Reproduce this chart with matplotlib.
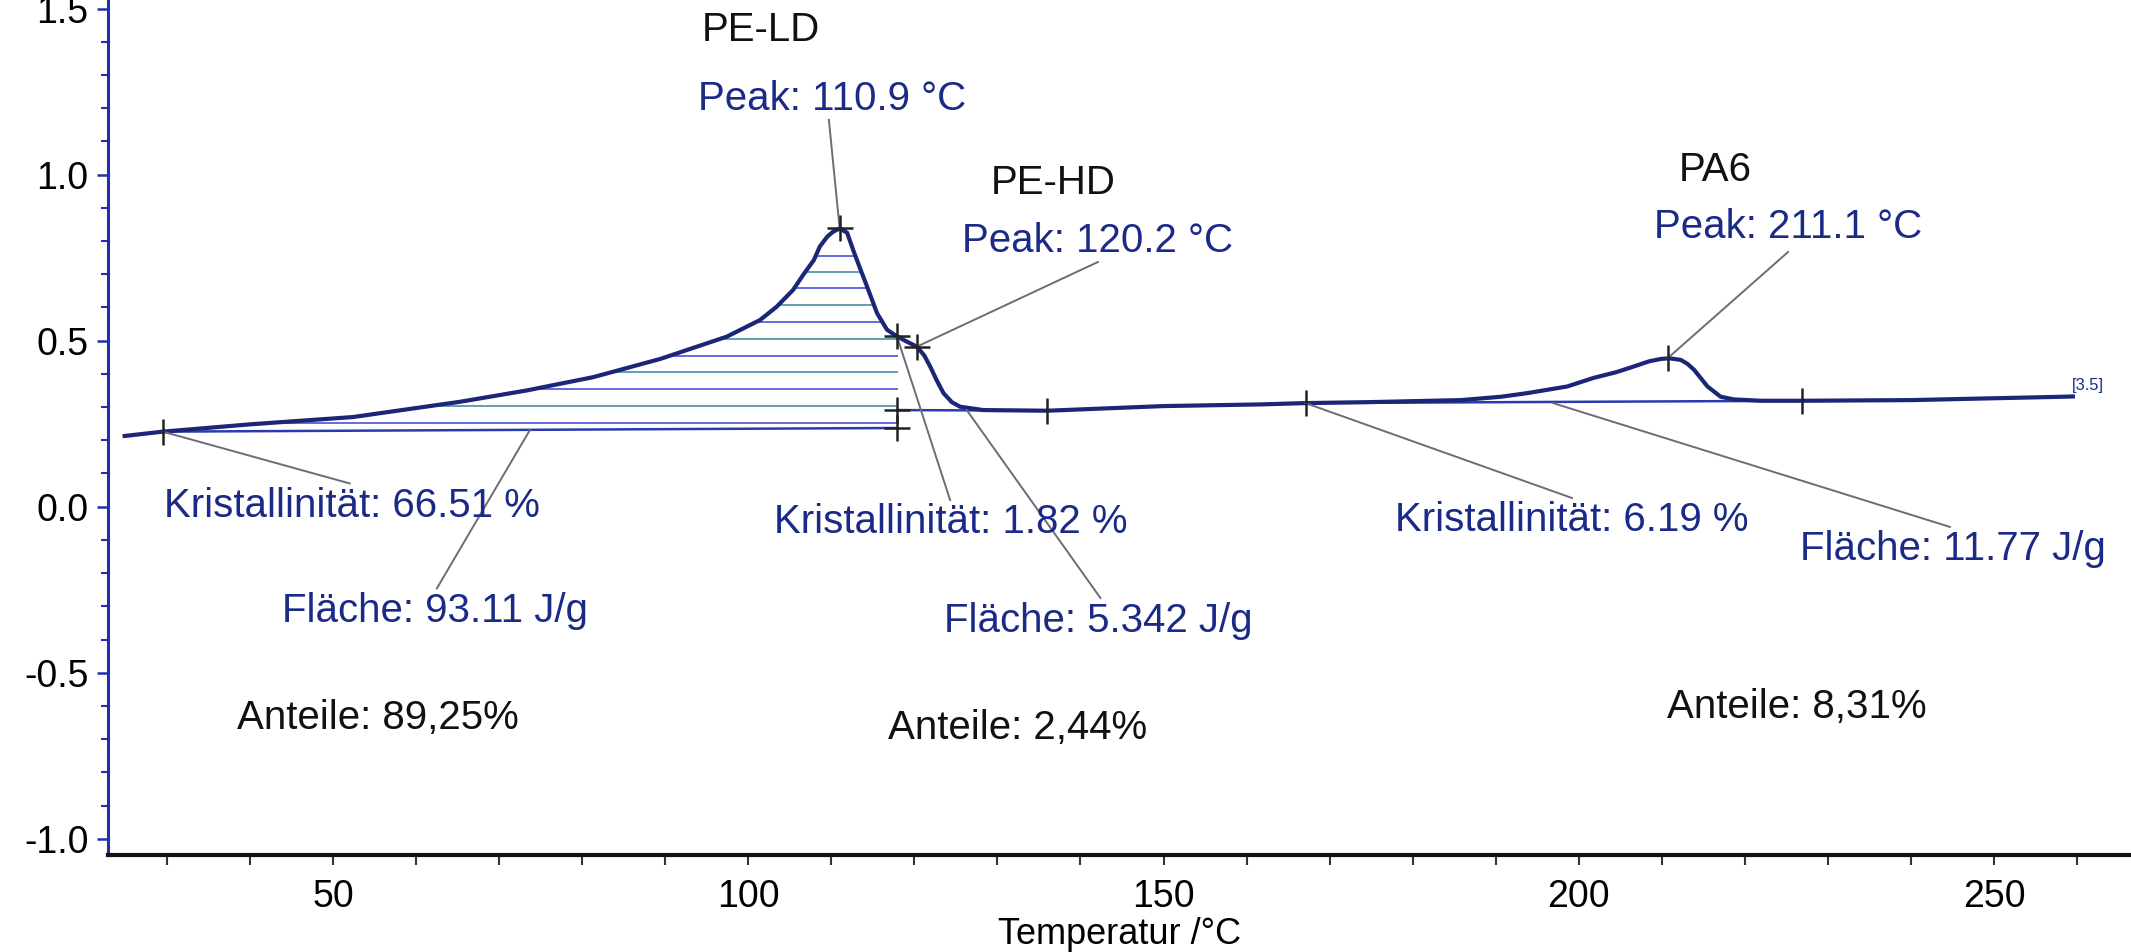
import numpy as np
import matplotlib
matplotlib.use("Agg")
from matplotlib import pyplot as plt
from matplotlib.ticker import MultipleLocator, FormatStrFormatter

plt.rcParams['font.family'] = ['Liberation Sans', 'DejaVu Sans']
plt.rcParams['axes.unicode_minus'] = False

# DSC curve (Temperatur /°C, signal)
temp = [24.9, 29.5, 40.0, 52.4, 65.3, 73.3, 81.3, 89.4, 97.4, 101.4, 103.4,
        105.4, 106.6, 107.9, 108.6, 109.5, 110.2, 111.0, 111.9, 112.7, 113.5,
        114.3, 115.5, 116.7, 117.9, 119.1, 120.3, 121.2, 121.9, 122.7, 123.5,
        124.5, 125.5, 128.3, 136.0, 150.0, 161.7, 167.1, 175.0, 185.8, 190.6,
        193.8, 198.6, 201.8, 204.5, 206.6, 208.5, 209.9, 210.9, 212.3, 213.1,
        213.9, 215.5, 217.1, 218.7, 222.0, 226.9, 240.0, 258.1, 259.5]
signal = [0.213, 0.226, 0.248, 0.270, 0.316, 0.350, 0.390, 0.445, 0.512, 0.562,
          0.602, 0.653, 0.698, 0.743, 0.783, 0.813, 0.828, 0.838, 0.825, 0.768,
          0.715, 0.663, 0.583, 0.533, 0.513, 0.497, 0.482, 0.455, 0.422, 0.380,
          0.342, 0.315, 0.301, 0.291, 0.289, 0.303, 0.308, 0.312, 0.315, 0.321,
          0.331, 0.342, 0.362, 0.388, 0.405, 0.422, 0.438, 0.445, 0.447, 0.442,
          0.430, 0.412, 0.362, 0.331, 0.323, 0.319, 0.319, 0.321, 0.331, 0.332]

# integration baselines (x0, y0, x1, y1)
base_ld = [29.5, 0.226, 117.9, 0.237]
base_hd = [117.9, 0.291, 136.0, 0.289]
base_pa = [167.1, 0.312, 226.9, 0.319]

# hatch levels of the PE-LD area
hatch_levels = [0.253, 0.304, 0.355, 0.407, 0.455, 0.506, 0.557, 0.608,
                0.660, 0.708, 0.755]

# evaluation points
ticks_bar = [(29.5, 0.226), (136.0, 0.289), (167.1, 0.312), (210.7, 0.447),
             (226.9, 0.319)]
ticks_plus = [(111.0, 0.838), (117.9, 0.513), (120.3, 0.482), (117.9, 0.291),
              (117.9, 0.237)]

# labels
blue_text = ["Peak: 110.9 °C", "Peak: 120.2 °C", "Peak: 211.1 °C",
             "Kristallinität: 66.51 %", "Fläche: 93.11 J/g",
             "Kristallinität: 1.82 %", "Fläche: 5.342 J/g",
             "Kristallinität: 6.19 %", "Fläche: 11.77 J/g"]
black_text = ["PE-LD", "PE-HD", "PA6",
              "Anteile: 89,25%", "Anteile: 2,44%", "Anteile: 8,31%"]

# layout: text centres and connector lines
blue_pos = [(110.1, 1.228), (142.1, 0.800), (225.2, 0.843),
            (52.3, 0.002), (62.3, -0.314),
            (124.4, -0.046), (142.1, -0.344),
            (199.2, -0.040), (245.1, -0.127)]
black_pos = [(101.5, 1.436), (136.7, 0.975), (216.4, 1.014),
             (55.4, -0.637), (132.4, -0.667), (226.3, -0.603)]
connectors = [((111.0, 0.838), (109.7, 1.165)),
              ((120.3, 0.482), (142.1, 0.737)),
              ((210.7, 0.447), (225.2, 0.767)),
              ((29.5, 0.226), (52.0, 0.070)),
              ((73.7, 0.231), (62.5, -0.246)),
              ((117.9, 0.513), (124.3, 0.020)),
              ((126.3, 0.291), (142.4, -0.275)),
              ((167.1, 0.312), (199.2, 0.026)),
              ((196.9, 0.312), (244.7, -0.061))]

navy = '#1b2676'
fig = plt.figure(figsize=(21.31, 9.52), dpi=100)
ax = fig.add_axes([0.0507, 0.1019, 0.9493, 0.8981])
ax.set_xlim(22.9, 266.5)
ax.set_ylim(-1.049, 1.526)

# hatch lines of the PE-LD peak
t = np.array(temp)
s = np.array(signal)
ipk = int(np.argmax(s))
isplit = temp.index(117.9)
for i, lev in enumerate(hatch_levels):
    xl = np.interp(lev, s[1:ipk + 1], t[1:ipk + 1])
    fall_y = s[ipk:isplit + 1][::-1]
    fall_x = t[ipk:isplit + 1][::-1]
    xr = min(base_ld[2], np.interp(lev, fall_y, fall_x)) if lev > fall_y[0] else base_ld[2]
    col = '#4d4fd4' if i % 2 == 0 else '#4b8ca6'
    ax.plot([xl, xr], [lev, lev], color=col, lw=1.4, alpha=0.85)

for b in (base_ld, base_hd, base_pa):
    ax.plot([b[0], b[2]], [b[1], b[3]], color='#2a3bb0', lw=1.8)

ax.plot(temp, signal, color=navy, lw=3, solid_joinstyle='round')

for (x0, y0), (x1, y1) in connectors:
    ax.plot([x0, x1], [y0, y1], color='#6b6b7a', lw=1.4)

for x, y in ticks_bar:
    ax.plot(x, y, marker='|', ms=19, mew=1.8, color='#222222')
for x, y in ticks_plus:
    ax.plot(x, y, marker='+', ms=19, mew=1.8, color='#222222')

for txt, (x, y) in zip(blue_text, blue_pos):
    ax.text(x, y, txt, color='#1a2a86', fontsize=29, ha='center', va='center')
for txt, (x, y) in zip(black_text, black_pos):
    ax.text(x, y, txt, color='#111111', fontsize=29, ha='center', va='center')
ax.text(259.4, 0.366, "[3.5]", color='#1a2a86', fontsize=12, ha='left', va='center')

ax.spines['top'].set_visible(False)
ax.spines['right'].set_visible(False)
ax.spines['left'].set_color('#2030a8')
ax.spines['left'].set_linewidth(2.2)
ax.spines['bottom'].set_color('#111111')
ax.spines['bottom'].set_linewidth(3)

ax.xaxis.set_major_locator(MultipleLocator(50))
ax.xaxis.set_minor_locator(MultipleLocator(10))
ax.yaxis.set_major_locator(MultipleLocator(0.5))
ax.yaxis.set_minor_locator(MultipleLocator(0.1))
ax.yaxis.set_major_formatter(FormatStrFormatter('%.1f'))
ax.tick_params(axis='x', which='both', direction='out', length=7, width=1.5,
               color='#333333', labelsize=27, pad=10)
ax.tick_params(axis='y', which='major', direction='out', length=8, width=1.8,
               color='#2030a8', labelsize=27, pad=6)
ax.tick_params(axis='y', which='minor', direction='out', length=5, width=1.5,
               color='#2030a8')
ax.set_xlabel("Temperatur /°C", fontsize=26, labelpad=2)

fig.savefig("out.png", dpi=100)
